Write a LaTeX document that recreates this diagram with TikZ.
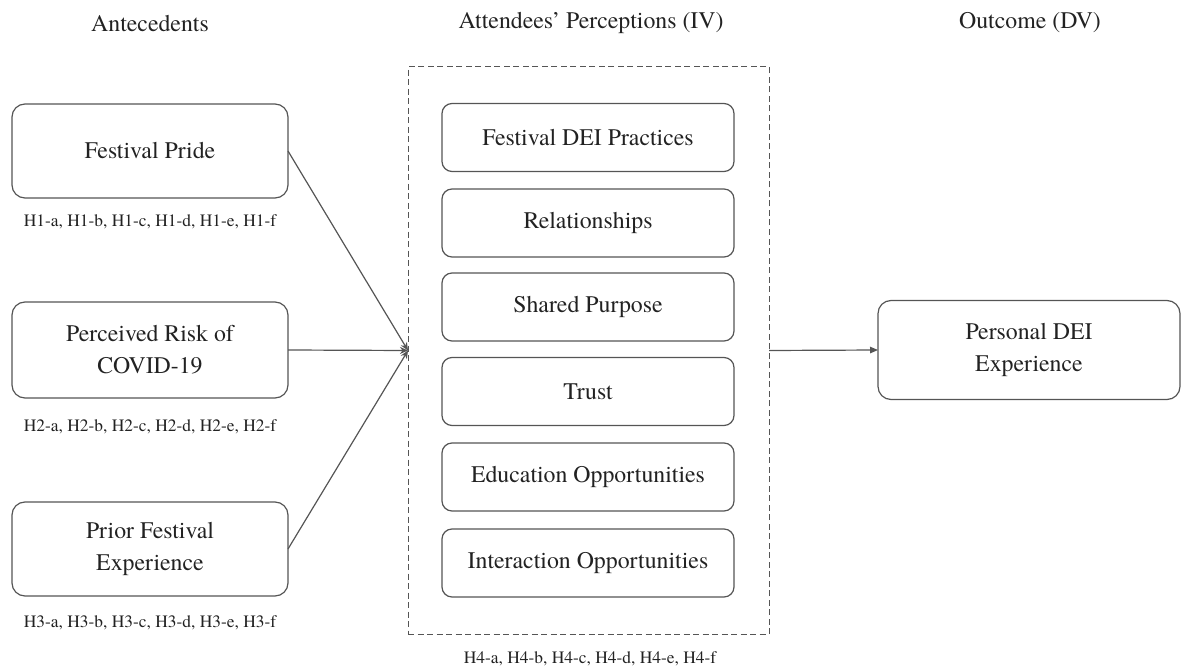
\documentclass[tikz,border=0pt]{standalone}
\usepackage{fontspec}
\setmainfont{texgyretermes-regular.otf}
\usetikzlibrary{arrows.meta}
\definecolor{edge}{HTML}{555555}
\definecolor{ink}{HTML}{222222}
\begin{document}
\begin{tikzpicture}[x=1pt,y=-1pt,
  every node/.style={inner sep=0pt, outer sep=0pt, text=ink},
  bigtext/.style={font=\fontsize{23.8}{32}\selectfont, align=center},
  smalltext/.style={font=\fontsize{17.4}{20}\selectfont},
  outerbox/.style={bigtext, draw=edge, line width=1.2pt, rounded corners=13pt},
  innerbox/.style={bigtext, draw=edge, line width=1.2pt, rounded corners=10pt,
    minimum width=292pt, minimum height=68pt},
  groupbox/.style={draw=edge, line width=1pt, dash pattern=on 6pt off 3.5pt,
    minimum width=361pt, minimum height=567pt},
  feed/.style={draw=edge, line width=1.2pt, -{Stealth[length=8pt,width=7pt,inset=2.5pt]}},
  link/.style={draw=edge, line width=1.2pt, -{Triangle[length=8pt,width=6.5pt]}}
]
\useasboundingbox (0,0) rectangle (1183,671);

% column headings
\node[bigtext] (hA) at (150,23) {Antecedents};
\node[bigtext] (hB) at (591,23) {Attendees’ Perceptions (IV)};
\node[bigtext] (hC) at (1030,23) {Outcome (DV)};

% antecedents
\node[outerbox, minimum width=276pt, minimum height=94pt] (fp) at (150,151) {Festival Pride};
\node[smalltext] (l1) at (150,222) {H1-a, H1-b, H1-c, H1-d, H1-e, H1-f};
\node[outerbox, minimum width=276pt, minimum height=96pt] (pr) at (150,350) {Perceived Risk of\\COVID-19};
\node[smalltext] (l2) at (150,427) {H2-a, H2-b, H2-c, H2-d, H2-e, H2-f};
\node[outerbox, minimum width=276pt, minimum height=94pt] (pf) at (150,549) {Prior Festival\\Experience};
\node[smalltext] (l3) at (150,623) {H3-a, H3-b, H3-c, H3-d, H3-e, H3-f};

% perceptions group
\node[groupbox] (iv) at (588.5,350.5) {};
\node[innerbox] (p1) at (588,137.5) {Festival DEI Practices};
\node[innerbox] (p2) at (588,223) {Relationships};
\node[innerbox] (p3) at (588,307) {Shared Purpose};
\node[innerbox] (p4) at (588,391.5) {Trust};
\node[innerbox] (p5) at (588,477) {Education Opportunities};
\node[innerbox] (p6) at (588,563) {Interaction Opportunities};
\node[smalltext] (l4) at (590,659) {H4-a, H4-b, H4-c, H4-d, H4-e, H4-f};

% outcome
\node[outerbox, minimum width=302pt, minimum height=99pt] (out) at (1029,350) {Personal DEI\\Experience};

% connectors
\draw[feed] (fp.east) -- (iv.west);
\draw[feed] (pr.east) -- (iv.west);
\draw[feed] (pf.east) -- (iv.west);
\draw[link] (iv.east) -- (out.west);
\end{tikzpicture}
\end{document}
